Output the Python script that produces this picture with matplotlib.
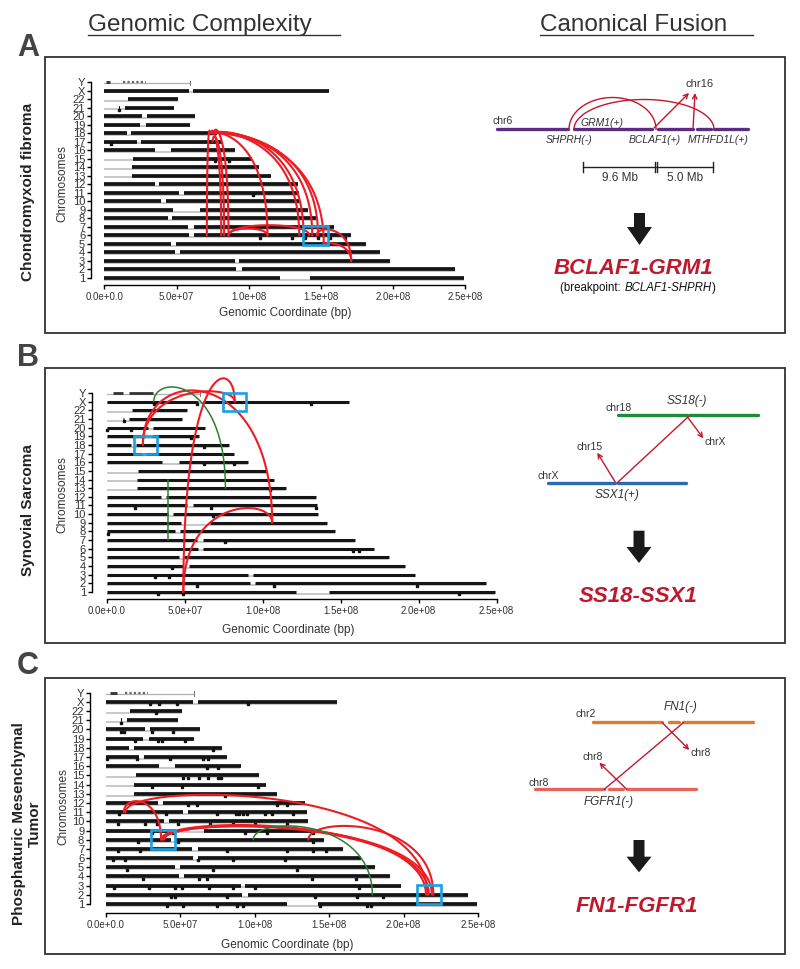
import numpy as np
import matplotlib
matplotlib.use("Agg")
import matplotlib.pyplot as plt
from matplotlib.patches import Rectangle, Polygon

plt.rcParams['font.family'] = ['Liberation Sans', 'DejaVu Sans']

# ---------------- data ----------------
chrom_names = [str(i) for i in range(1, 23)] + ['X', 'Y']
chrom_len_mb = [249.25, 243.2, 198.0, 191.15, 180.9, 171.1, 159.1, 146.4, 141.2,
                135.5, 135.0, 133.85, 115.2, 107.35, 102.5, 90.35, 81.2, 78.1,
                59.1, 63.0, 48.1, 51.3, 155.3, 59.4]
# covered (black) segments per chromosome, Mb
chrom_arms_mb = [
    [(0.0, 121.5), (142.6, 249.2)], [(0.0, 91.5), (95.3, 243.2)],
    [(0.0, 90.5), (93.5, 198.0)], [(0.0, 49.0), (52.7, 191.1)],
    [(0.0, 46.4), (49.4, 180.9)], [(0.0, 58.7), (61.9, 171.1)],
    [(0.0, 58.0), (61.9, 159.1)], [(0.0, 43.8), (46.8, 146.3)],
    [(0.0, 47.3), (66.0, 141.2)], [(0.0, 39.2), (42.4, 135.5)],
    [(0.0, 51.6), (55.0, 135.0)], [(0.0, 34.8), (38.0, 133.9)],
    [(19.0, 115.2)], [(19.0, 107.3)], [(20.0, 102.5)],
    [(0.0, 35.3), (46.4, 90.4)], [(0.0, 22.3), (25.3, 81.2)],
    [(0.0, 15.4), (18.5, 78.1)], [(0.0, 24.7), (28.6, 59.1)],
    [(0.0, 26.4), (29.8, 63.0)], [(10.0, 10.9), (14.3, 48.1)],
    [(16.2, 51.3)], [(0.0, 58.6), (61.7, 155.3)],
]
chrY_dark_A = [(1.0, 4.0)]
chrY_light_A = [(13.0, 29.0)]
chrY_dark_B = [(3.7, 10.5), (14.3, 29.3)]
chrY_light_B = []
chrY_dark_C = [(2.7, 7.1)]
chrY_light_C = [(12.7, 28.3)]

# outlier copy-number points (chrom, Mb)
dots_A = [("21", 10.4), ("15", 77), ("15", 86.6), ("11", 102.7), ("6", 108),
          ("6", 130), ("6", 139), ("6", 148), ("6", 156), ("6", 167), ("17", 4.6)]
dots_B = [("X", 130.7), ("X", 30), ("X", 58), ("21", 10.9), ("20", 0.2), ("20", 15.2),
          ("19", 54), ("18", 62.5), ("16", 62), ("16", 81.5), ("13", 104.6),
          ("11", 18), ("11", 66.8), ("11", 134), ("10", 67.8), ("8", 0.9), ("7", 75.7),
          ("6", 158), ("6", 162), ("4", 41.5), ("3", 30.8), ("3", 40), ("2", 57.6),
          ("2", 107), ("2", 199), ("1", 32.5), ("1", 49), ("1", 226)]
dots_C = [("X", 29.6), ("X", 35.8), ("X", 47.5), ("X", 95.6), ("22", 33.6), ("21", 9.9),
          ("20", 9.9), ("20", 12.1), ("20", 30.7), ("20", 45.2),
          ("19", 19.5), ("19", 35.2), ("19", 37.4), ("19", 53.1), ("18", 72.1),
          ("17", 0.9), ("17", 20.6), ("17", 43), ("17", 65.4), ("17", 68.8),
          ("16", 68.1), ("16", 75.5), ("15", 52), ("15", 55.3), ("15", 62.7),
          ("15", 68.8), ("15", 75.5), ("15", 77.1), ("14", 30.7), ("14", 50.9),
          ("14", 102.4), ("13", 80), ("12", 55.3), ("12", 61.4), ("12", 114.7),
          ("12", 121.9), ("11", 9), ("11", 40.3), ("11", 74.4), ("11", 87.4),
          ("11", 89.6), ("11", 92.3), ("11", 95), ("11", 106.9), ("11", 111.4),
          ("11", 125.5), ("10", 8.3), ("10", 26.2), ("10", 34), ("10", 48.6),
          ("10", 69.9), ("10", 85.6), ("10", 100.1), ("10", 121.4), ("9", 30.7),
          ("9", 45.2), ("9", 93.4), ("9", 108), ("9", 139.3), ("8", 21.7),
          ("8", 48.6), ("8", 139.3), ("7", 8.3), ("7", 22.8), ("7", 81.5),
          ("7", 121.9), ("7", 139.3), ("7", 147.8), ("6", 4.9), ("6", 12.8),
          ("6", 62), ("6", 85.6), ("6", 120.3), ("5", 14.3), ("5", 72.1),
          ("5", 128.1), ("4", 25.1), ("4", 62.7), ("4", 67.7), ("4", 138.2),
          ("4", 168), ("3", 5.4), ("3", 29.1), ("3", 46.4), ("3", 50.9), ("3", 69.4),
          ("3", 85.6), ("3", 100.1), ("3", 170.2), ("2", 43.5), ("2", 46.4),
          ("2", 81.1), ("2", 140.5), ("2", 168.5), ("2", 186), ("1", 40.8),
          ("1", 52), ("1", 74.4), ("1", 87.8), ("1", 92.3), ("1", 143.8),
          ("1", 175.6), ("1", 177.9)]

# structural-variant links: (chrA, Mb, chrB, Mb, arc apex row, kind)
links_A = [("6", 71, "18", 73, 18.3, "r"), ("6", 81, "18", 74, 18.3, "r"),
           ("6", 83, "17", 75, 17.6, "r"), ("6", 86, "18", 76, 18.4, "r"),
           ("18", 74, "6", 113, 18.1, "r"), ("18", 75, "6", 135, 18.1, "r"),
           ("18", 76, "6", 138, 18.15, "r"), ("18", 76, "6", 144, 18.1, "r"),
           ("18", 77, "6", 148, 18.05, "r"), ("18", 77, "5", 152, 18.0, "r"),
           ("6", 86, "6", 113, 6.8, "r"), ("6", 86, "6", 142, 7.2, "r"),
           ("6", 147, "3", 171, 6.7, "r"), ("5", 152, "3", 171, 5.1, "r")]
links_B = [("1", 49, "X", 82, 25.7, "r"), ("18", 23, "X", 82, 24.2, "r"),
           ("18", 23, "9", 106, 24.3, "r"), ("1", 49, "9", 106, 10.7, "r"),
           ("X", 30, "13", 76, 24.7, "g"), ("14", 39, "7", 39, 14.0, "g")]
links_C = [("11", 12, "8", 37, 12.2, "r"), ("11", 13, "2", 216, 12.9, "r"),
           ("8", 37, "2", 215, 9.6, "r"), ("8", 38, "2", 217, 9.45, "r"),
           ("8", 39, "2", 219, 9.5, "r"), ("8", 136, "2", 220, 9.5, "r"),
           ("8", 99, "2", 179, 9.5, "g")]
# highlighted fusion loci (chrom, Mb)
boxes_A = [("6", 146)]
boxes_B = [("18", 24.4), ("X", 82)]
boxes_C = [("8", 38), ("2", 217)]

panel_letters = ["A", "B", "C"]
panel_titles = ["Chondromyxoid fibroma", "Synovial Sarcoma",
                "Phosphaturic Mesenchymal\nTumor"]
x_ticks = [0, 5e7, 1e8, 1.5e8, 2e8, 2.5e8]
x_tick_labels = ["0.0e+0.0", "5.0e+07", "1.0e+08", "1.5e+08", "2.0e+08", "2.5e+08"]
fusions = ["BCLAF1-GRM1", "SS18-SSX1", "FN1-FGFR1"]

# ---------------- styles ----------------
RED_LINK = '#ee1c24'
GREEN_LINK = '#2e7d32'
BOX_BLUE = '#1ba1e2'
FUS_RED = '#c0182d'
TXT = '#333333'

W, H = 800, 969
fig = plt.figure(figsize=(W / 100, H / 100), dpi=100)
ov = fig.add_axes([0, 0, 1, 1])
ov.set_xlim(0, W)
ov.set_ylim(H, 0)
ov.axis('off')

row_of = {n: i + 1 for i, n in enumerate(chrom_names)}


def bezier_link(ax, c1, p1, c2, p2, peak, color, lw):
    y1, y2 = row_of[c1], row_of[c2]
    x1, x2 = p1 * 1e6, p2 * 1e6
    t = np.linspace(0, 1, 200)
    b0, b1, b2, b3 = (1 - t) ** 3, 3 * (1 - t) ** 2 * t, 3 * (1 - t) * t ** 2, t ** 3
    lo, hi = min(y1, y2) - 5, peak + 30
    for _ in range(60):
        c = (lo + hi) / 2
        ymax = (b0 * y1 + (b1 + b2) * c + b3 * y2).max()
        if ymax > peak:
            hi = c
        else:
            lo = c
    y = b0 * y1 + (b1 + b2) * c + b3 * y2
    x = (b0 + b1) * x1 + (b2 + b3) * x2
    ax.plot(x, y, color=color, lw=lw, clip_on=False, zorder=5,
            solid_capstyle='round', solid_joinstyle='round')


def genome_panel(px0, s, y1px, d, L, B, dots, links, boxes, ydark, ylight,
                 bar_lw, box_px):
    R = px0 + 2.56e8 * s
    T = y1px - 23 * d - 10
    ax = fig.add_axes([L / W, 1 - B / H, (R - L) / W, (B - T) / H])
    ax.set_facecolor('none')
    ax.set_xlim((L - px0) / s, (R - px0) / s)
    ax.set_ylim(1 - (B - y1px) / d, 1 + (y1px - T) / d)
    for sp in ['top', 'right']:
        ax.spines[sp].set_visible(False)
    ax.spines['left'].set_bounds(1, 24)
    ax.spines['bottom'].set_bounds(0, 2.5e8)
    for sp in ['left', 'bottom']:
        ax.spines[sp].set_linewidth(1.0)
    ax.set_xticks(x_ticks)
    ax.set_xticklabels(x_tick_labels)
    ax.set_yticks(range(1, 25))
    ax.set_yticklabels(chrom_names)
    ax.tick_params(axis='both', length=3, width=1.0, labelsize=7, pad=2,
                   colors='black', labelcolor=TXT)
    ax.tick_params(axis='y', labelsize=8, pad=1.2)
    for i, name in enumerate(chrom_names[:23]):
        r = i + 1
        ax.plot([0, chrom_len_mb[i] * 1e6], [r - 0.2, r - 0.2], color='#c4c4c4',
                lw=1.3, solid_capstyle='butt', zorder=1)
        for a, b in chrom_arms_mb[i]:
            ax.plot([a * 1e6, b * 1e6], [r, r], color='#151515', lw=bar_lw,
                    solid_capstyle='butt', zorder=2)
    ry = 24
    ax.plot([0, chrom_len_mb[23] * 1e6], [ry - 0.1, ry - 0.1], color='#b0b0b0',
            lw=0.9, zorder=1)
    ax.plot([chrom_len_mb[23] * 1e6] * 2, [ry - 0.35, ry + 0.15], color='#777777',
            lw=0.7, zorder=1)
    for a, b in ydark:
        ax.plot([a * 1e6, b * 1e6], [ry, ry], color='#333333', lw=2.0,
                solid_capstyle='butt', zorder=2)
    for a, b in ylight:
        ax.plot([a * 1e6, b * 1e6], [ry, ry], color='#666666', lw=1.6,
                ls=(0, (1, 1)), solid_capstyle='butt', zorder=2)
    if dots:
        ax.plot([p * 1e6 for c, p in dots], [row_of[c] - 0.25 for c, p in dots],
                ls='none', marker='s', ms=1.8, color='#111111', zorder=3,
                clip_on=False)
    for c1, p1, c2, p2, peak, kind in links:
        if kind == 'r':
            bezier_link(ax, c1, p1, c2, p2, peak, RED_LINK, 1.5)
        else:
            bezier_link(ax, c1, p1, c2, p2, peak, GREEN_LINK, 1.1)
    bw, bh = box_px[0] / s, box_px[1] / d
    for c, p in boxes:
        ax.add_patch(Rectangle((p * 1e6 - bw / 2, row_of[c] - bh / 2), bw, bh,
                               fill=False, ec=BOX_BLUE, lw=1.9, zorder=6,
                               clip_on=False))
    return ax


genome_panel(104.3, 72.2 / 5e7, 278, 8.52, 91, 285, dots_A, links_A, boxes_A,
             chrY_dark_A, chrY_light_A, 2.7, (25, 19))
genome_panel(107, 77.9 / 5e7, 592, 8.652, 91.7, 599, dots_B, links_B, boxes_B,
             chrY_dark_B, chrY_light_B, 2.2, (23, 18))
genome_panel(106, 74.4 / 5e7, 904, 9.187, 90, 912.7, dots_C, links_C, boxes_C,
             chrY_dark_C, chrY_light_C, 2.7, (24, 19))

# ---------------- overlay: frames, titles, labels ----------------
for top, bot in [(57, 333), (367.7, 643), (678, 954)]:
    ov.add_patch(Rectangle((45, top), 740, bot - top, fill=False, ec='#333333', lw=1.3))

ov.text(88, 25, "Genomic Complexity", fontsize=17.5, color=TXT, ha='left', va='center')
ov.plot([88, 340], [35, 35], color=TXT, lw=1.0)
ov.text(540, 25, "Canonical Fusion", fontsize=17.5, color=TXT, ha='left', va='center')
ov.plot([540, 753], [35, 35], color=TXT, lw=1.0)

for (lx, ly), letter in zip([(28, 48), (28, 358), (28, 666)], panel_letters):
    ov.text(lx, ly, letter, fontsize=22, fontweight='bold', color='#444444',
            ha='center', va='center')

for (tx, ty), title in zip([(28, 192), (28, 510), (27, 824)], panel_titles):
    ov.text(tx, ty, title, fontsize=11, fontweight='bold', color='#222222',
            rotation=90, ha='center', va='center', linespacing=1.1,
            multialignment='center')

for (cx, cy) in [(62, 184), (62, 495), (63, 807)]:
    ov.text(cx, cy, "Chromosomes", fontsize=8.5, color=TXT, rotation=90,
            ha='center', va='center')
for (cx, cy) in [(285, 313), (288, 630), (287, 945)]:
    ov.text(cx, cy, "Genomic Coordinate (bp)", fontsize=8.5, color=TXT,
            ha='center', va='center')


def fat_arrow(cx, top, sb, tip, sw=5.5, hw=12.5):
    pts = [(cx - sw, top), (cx + sw, top), (cx + sw, sb), (cx + hw, sb), (cx, tip),
           (cx - hw, sb), (cx - sw, sb)]
    ov.add_patch(Polygon(pts, closed=True, fc='#1a1a1a', ec='none'))


def seg(xs, y, color, lw=2.4):
    for a, b in xs:
        ov.plot([a, b], [y, y], color=color, lw=lw, solid_capstyle='round')


def arrow(x0, y0, x1, y1):
    ov.annotate("", xy=(x1, y1), xytext=(x0, y0),
                arrowprops=dict(arrowstyle='->', color=FUS_RED, lw=1.0,
                                mutation_scale=8, shrinkA=0, shrinkB=0))


def label(x, y, s, italic=False, size=7.5, ha='center'):
    ov.text(x, y, s, fontsize=size, color=TXT, ha=ha, va='center',
            style='italic' if italic else 'normal')


# --- schematic A ---
PURPLE = '#5a2d82'
seg([(497, 568), (574, 652), (658, 693), (697, 711), (714, 748)], 129.3, PURPLE)
label(503, 121, "chr6")
label(569, 140, "SHPRH(-)", True)
label(602, 123, "GRM1(+)", True)
label(655, 140, "BCLAF1(+)", True)
label(718, 140, "MTHFD1L(+)", True)
label(700, 84, "chr16", size=8)
tt = np.linspace(0, np.pi, 100)
for xa, xb, peak in [(569, 656, 97.5), (574, 714, 99.5)]:
    ov.plot((xa + xb) / 2 - (xb - xa) / 2 * np.cos(tt),
            129.3 - (129.3 - peak) * np.sin(tt), color=FUS_RED, lw=1.0)
arrow(654, 128, 689, 93)
arrow(693, 129, 695, 93)
ov.plot([583, 713], [166.7, 166.7], color='#222222', lw=1.0)
for xt in [583, 655.3, 657.3, 713]:
    ov.plot([xt, xt], [161.5, 172], color='#222222', lw=1.0)
label(620, 178.3, "9.6 Mb", size=8.5)
label(685, 178.3, "5.0 Mb", size=8.5)
fat_arrow(639.5, 213, 227, 245)
ov.text(633, 269, fusions[0], fontsize=16, fontweight='bold', style='italic',
        color=FUS_RED, ha='center', va='center')

renderer = fig.canvas.get_renderer()
pieces = [("(breakpoint: ", 'normal'), ("BCLAF1-SHPRH", 'italic'), (")", 'normal')]
objs = [ov.text(0, 288, s, fontsize=8.3, style=st, color='#111111', ha='left',
                va='center') for s, st in pieces]
widths = [o.get_window_extent(renderer).width for o in objs]
xstart = 638 - sum(widths) / 2
for o, w in zip(objs, widths):
    o.set_x(xstart)
    xstart += w

# --- schematic B ---
GREEN = '#1e8c3a'
BLUE = '#2b6cb0'
seg([(618, 687), (689, 758)], 415.3, GREEN)
label(619, 408, "chr18")
label(687, 401, "SS18(-)", True, size=8.5)
seg([(548, 615), (618, 686)], 482.7, BLUE)
label(548, 476, "chrX")
label(617, 495, "SSX1(+)", True, size=8.5)
ov.plot([617.3, 688.3], [482.7, 416.7], color=FUS_RED, lw=1.0)
arrow(687.7, 417.3, 703.3, 438.3)
label(715, 442, "chrX")
arrow(615, 481.7, 597.3, 452.7)
label(590, 447, "chr15")
fat_arrow(639, 530.7, 547, 563)
ov.text(638, 596, fusions[1], fontsize=16, fontweight='bold', style='italic',
        color=FUS_RED, ha='center', va='center')

# --- schematic C ---
ORANGE = '#e07a32'
SALMON = '#e8625c'
seg([(593, 662), (669, 679), (683, 753)], 722.3, ORANGE)
label(586, 714, "chr2")
label(681, 707, "FN1(-)", True, size=8.5)
seg([(535, 604), (609, 623), (627, 696)], 789.3, SALMON)
label(539, 783, "chr8")
label(609, 801.7, "FGFR1(-)", True, size=8.5)
ov.plot([604.3, 683.3], [789.3, 722.7], color=FUS_RED, lw=1.0)
arrow(662.3, 722.7, 689.3, 750)
label(701, 752.7, "chr8")
arrow(626.7, 789.3, 599.3, 762.7)
label(592.7, 756.7, "chr8")
fat_arrow(639, 840, 856.7, 872.3)
ov.text(636.7, 906, fusions[2], fontsize=16, fontweight='bold', style='italic',
        color=FUS_RED, ha='center', va='center')

fig.savefig("out.png", dpi=100)
